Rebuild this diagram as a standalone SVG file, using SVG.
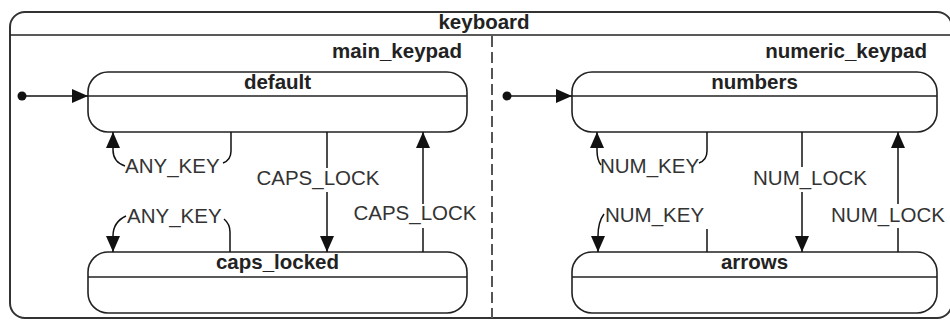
<svg xmlns="http://www.w3.org/2000/svg" width="950" height="320" viewBox="0 0 950 320">
<style>
.frame{fill:#fff;stroke:#333;stroke-width:2}
.state{fill:#fff;stroke:#222;stroke-width:1.6}
.sep{stroke:#222;stroke-width:1.6}
.title{font-family:"Liberation Sans",Arial,sans-serif;font-weight:bold;font-size:20.5px;fill:#222}
.lbl{font-family:"Liberation Sans",Arial,sans-serif;font-size:20.5px;fill:#333}
.edge{fill:none;stroke:#111;stroke-width:1.5}
.arr{fill:none;stroke:#111;stroke-width:1.5;marker-end:url(#ah)}
.dot{fill:#111}
</style>
<defs>
<marker id="ah" markerUnits="userSpaceOnUse" markerWidth="16" markerHeight="14" refX="16" refY="7" orient="auto">
<path d="M0,0 L16,7 L0,14 Z" fill="#111"/>
</marker>
</defs>
<rect width="950" height="320" fill="#fff"/>
<g id="keyboard">
<rect class="frame" x="10" y="12" width="942" height="306" rx="15"/>
<line class="sep" x1="10" y1="35" x2="950" y2="35" stroke-width="2"/>
<text class="title" x="484" y="29" text-anchor="middle">keyboard</text>
<line x1="492" y1="36" x2="492" y2="318" stroke="#555" stroke-width="2" stroke-dasharray="11 5"/>
</g>
<g id="main_keypad">
<text class="title" x="462" y="58" text-anchor="end">main_keypad</text>
</g>
<g id="numeric_keypad">
<text class="title" x="927" y="58" text-anchor="end">numeric_keypad</text>
</g>
<g id="default">
<rect class="state" x="88" y="72" width="379" height="60" rx="20"/>
<line class="sep" x1="88" y1="96" x2="467" y2="96"/>
<text class="title" x="277.5" y="89" text-anchor="middle">default</text>
</g>
<g id="caps_locked">
<rect class="state" x="88" y="252" width="379" height="61" rx="20"/>
<line class="sep" x1="88" y1="277" x2="467" y2="277"/>
<text class="title" x="277.5" y="269" text-anchor="middle">caps_locked</text>
</g>
<g id="numbers">
<rect class="state" x="572" y="72" width="365" height="60" rx="20"/>
<line class="sep" x1="572" y1="96" x2="937" y2="96"/>
<text class="title" x="754.5" y="89" text-anchor="middle">numbers</text>
</g>
<g id="arrows">
<rect class="state" x="572" y="252" width="365" height="61" rx="20"/>
<line class="sep" x1="572" y1="277" x2="937" y2="277"/>
<text class="title" x="754.5" y="269" text-anchor="middle">arrows</text>
</g>
<g id="initial_main">
<circle class="dot" cx="22" cy="96" r="4.5"/>
</g>
<g id="initial_numeric">
<circle class="dot" cx="507" cy="96" r="4.5"/>
</g>
<g id="connectors">
<path class="arr" d="M22,96 H88"/>
<path class="arr" d="M507,96 H572"/>
<!-- default self-loop ANY_KEY -->
<path class="edge" d="M231,132 V151 Q231,160 223,163"/>
<path class="arr" d="M125,166 Q113,162 113,150 V132"/>
<text class="lbl" x="125" y="173">ANY_KEY</text>
<!-- CAPS_LOCK down -->
<path class="edge" d="M327,132 V168"/>
<path class="arr" d="M327,192 V252"/>
<text class="lbl" x="318" y="185" text-anchor="middle">CAPS_LOCK</text>
<!-- CAPS_LOCK up -->
<path class="edge" d="M423,252 V228"/>
<path class="arr" d="M423,204 V132"/>
<text class="lbl" x="415" y="220" text-anchor="middle">CAPS_LOCK</text>
<!-- caps_locked self-loop ANY_KEY -->
<path class="edge" d="M230,252 V232 Q230,224 224,219"/>
<path class="arr" d="M126,216 Q113,222 113,236 V252"/>
<text class="lbl" x="127" y="223">ANY_KEY</text>
<!-- numbers self-loop NUM_KEY -->
<path class="edge" d="M707,132 V151 Q707,160 699,163"/>
<path class="arr" d="M601,165 Q597,160 597,150 V132"/>
<text class="lbl" x="600" y="173">NUM_KEY</text>
<!-- NUM_LOCK down -->
<path class="edge" d="M802,132 V167"/>
<path class="arr" d="M802,192 V252"/>
<text class="lbl" x="810" y="185" text-anchor="middle">NUM_LOCK</text>
<!-- NUM_LOCK up -->
<path class="edge" d="M898,252 V228"/>
<path class="arr" d="M898,204 V132"/>
<text class="lbl" x="888" y="222" text-anchor="middle">NUM_LOCK</text>
<!-- arrows self-loop NUM_KEY -->
<path class="edge" d="M707,252 V229"/>
<path class="arr" d="M604,214 Q598,222 598,236 V252"/>
<text class="lbl" x="605" y="222">NUM_KEY</text>
</g>
</svg>
